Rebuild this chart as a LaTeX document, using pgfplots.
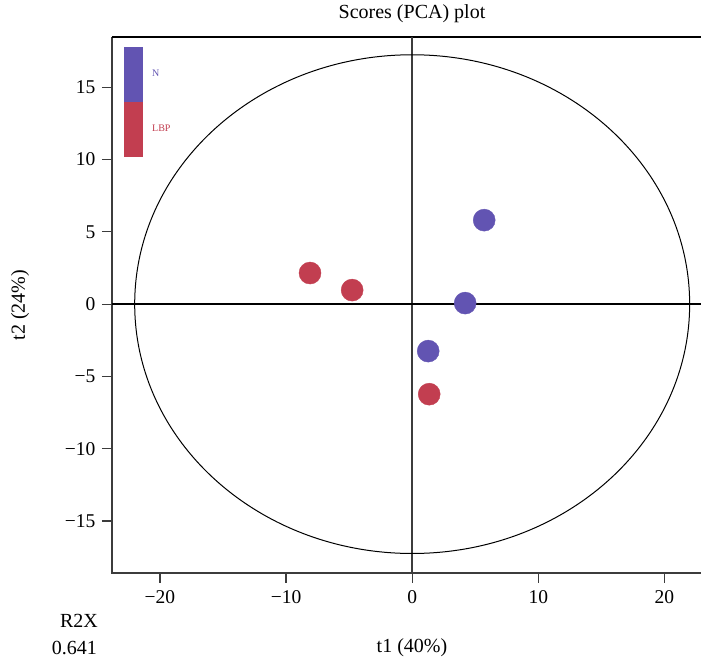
\documentclass[border=0pt]{standalone}
\usepackage{pgfplots}
\pgfplotsset{compat=1.18}
\usepackage{fontspec}
\setmainfont{Liberation Serif}
\definecolor{cN}{RGB}{98,84,178}
\definecolor{cL}{RGB}{194,62,80}
\definecolor{axgray}{RGB}{60,60,60}
\begin{document}
\begin{tikzpicture}
\begin{axis}[
  at={(0pt,0pt)}, anchor=south west,
  scale only axis, width=589pt, height=536pt,
  xmin=-23.8, xmax=22.9, ymin=-18.6, ymax=18.48,
  xtick={-20,-10,0,10,20}, ytick={-15,-10,-5,0,5,10,15},
  xticklabels={−20,−10,0,10,20},
  yticklabels={−15,−10,−5,0,5,10,15},
  tick align=outside, major tick length=10pt,
  xtick pos=bottom, ytick pos=left,
  tick style={axgray, line width=1.2pt},
  axis line style={draw=none},
  ticklabel style={font=\fontsize{19.5}{21}\selectfont},
  xticklabel style={yshift=-4pt},
  yticklabel style={xshift=-3pt},
  clip=false,
]
\draw[axgray, line width=1.3pt] (rel axis cs:0,1) -- (rel axis cs:0,0) -- (rel axis cs:1,0);
\draw[black, line width=1.3pt] (rel axis cs:0,1) -- (rel axis cs:1,1);
\draw[axgray, line width=1.5pt] (axis cs:0,-18.6) -- (axis cs:0,18.48);
\draw[black, line width=1.3pt] (axis cs:-23.8,0) -- (axis cs:22.9,0);
\draw[black, line width=1pt] (axis cs:0,0) ellipse [x radius=22, y radius=17.25];
\addplot[only marks, mark=*, mark size=11pt, mark options={fill=cN, draw=cN}] coordinates {
  (5.71,5.81) (4.2,0.07) (1.27,-3.25)
};
\addplot[only marks, mark=*, mark size=11pt, mark options={fill=cL, draw=cL}] coordinates {
  (1.35,-6.23) (-8.1,2.15) (-4.76,0.97)
};
\end{axis}
\fill[cN] (12pt,526pt) rectangle (31pt,471.3pt);
\fill[cL] (12pt,471.3pt) rectangle (31pt,416.3pt);
\node[anchor=west, text=cN, font=\fontsize{10}{11}\selectfont, inner sep=0pt] at (40pt,500pt) {N};
\node[anchor=west, text=cL, font=\fontsize{10}{11}\selectfont, inner sep=0pt] at (40pt,445pt) {LBP};
\node[font=\fontsize{20}{22}\selectfont, inner sep=0pt] at (300pt,559pt) {Scores (PCA) plot};
\node[font=\fontsize{20}{22}\selectfont, inner sep=0pt, rotate=90] at (-92pt,268pt) {t2 (24\%)};
\node[font=\fontsize{20}{22}\selectfont, inner sep=0pt] at (300pt,-75pt) {t1 (40\%)};
\node[font=\fontsize{20}{22}\selectfont, inner sep=0pt, anchor=east] at (-14pt,-48pt) {R2X};
\node[font=\fontsize{20}{22}\selectfont, inner sep=0pt, anchor=east] at (-15pt,-75pt) {0.641};
\pgfresetboundingbox
\path[use as bounding box] (-112pt,-90pt) rectangle (589pt,573pt);
\end{tikzpicture}
\end{document}
